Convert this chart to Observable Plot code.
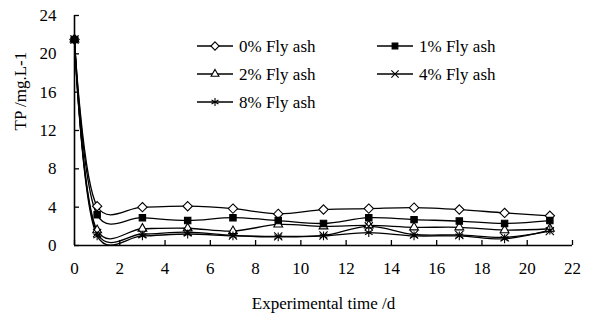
<!DOCTYPE html>
<html><head><meta charset="utf-8">
<script src="https://cdn.jsdelivr.net/npm/d3@7"></script>
<script src="https://cdn.jsdelivr.net/npm/@observablehq/plot@0.6"></script>
<style>
body{margin:0;background:#fff;}
#wrap{position:relative;width:591px;height:323px;}
#legend{position:absolute;left:0;top:0;}
</style>
</head><body><div id="wrap"></div>
<script>
const days = [0,1,3,5,7,9,11,13,15,17,19,21];
const fa0 = [21.5,4.1,4.0,4.1,3.85,3.3,3.75,3.85,3.95,3.75,3.4,3.1];
const fa1 = [21.5,3.2,2.9,2.6,2.9,2.6,2.3,2.9,2.7,2.55,2.3,2.6];
const fa2 = [21.5,1.6,1.75,1.8,1.5,2.2,2.0,2.1,1.9,1.9,1.6,1.75];
const fa4 = [21.5,1.3,1.2,1.4,1.05,0.95,1.05,2.0,1.15,1.1,0.85,1.5];
const fa8 = [21.5,1.0,1.0,1.2,1.0,0.9,1.0,1.35,1.0,1.0,0.7,1.6];
const seriesNames = ["0% Fly ash","1% Fly ash","2% Fly ash","4% Fly ash","8% Fly ash"];
const xTicks = [0,2,4,6,8,10,12,14,16,18,20,22];
const yTicks = [0,4,8,12,16,20,24];

const symbols = ["diamond2","square","triangle2","times","asterisk"];
const fills = ["white","black","white","none","none"];
const radii = [4.2,3.6,4.2,3.8,4.2];
const allSeries = [fa0,fa1,fa2,fa4,fa8];
const dotOrder = [0,2,3,4,1];

const W=591,H=323,ML=74,MR=19,MT=15,MB=78;
const font = "Liberation Serif, DejaVu Serif, serif";
const FS = 17;

const marks = [];
allSeries.forEach((vals,i)=>{
  const data = days.map((d,j)=>({day:d,tp:vals[j]}));
  marks.push(Plot.line(data,{x:"day",y:"tp",curve:d3.curveCatmullRom.alpha(0.2),stroke:"black",strokeWidth:1.3}));
});
dotOrder.forEach(i=>{
  const vals = allSeries[i];
  const data = days.map((d,j)=>({day:d,tp:vals[j]}));
  marks.push(Plot.dot(data,{x:"day",y:"tp",symbol:()=>symbols[i],r:radii[i],fill:fills[i],stroke:"black",strokeWidth:1.1}));
});

const chart = Plot.plot({
  width:W,height:H,marginLeft:ML,marginRight:MR,marginTop:MT,marginBottom:MB,
  style:{fontFamily:font,fontSize:FS+"px",color:"black",background:"white"},
  x:{domain:[0,22]},
  y:{domain:[0,24]},
  symbol:{type:"identity"},
  marks:[
    Plot.axisX({ticks:xTicks,tickSize:0,tickPadding:16,label:null,fontSize:FS}),
    Plot.axisY({ticks:yTicks,tickSize:0,tickPadding:18,label:null,fontSize:FS}),
    Plot.tickX(xTicks,{x:d=>d,insetTop:(H-MT-MB)-5,stroke:"black",strokeWidth:1.3}),
    Plot.tickY(yTicks,{y:d=>d,insetRight:(W-ML-MR)-5,stroke:"black",strokeWidth:1.3}),
    ...marks,
    Plot.ruleY([0],{stroke:"black",strokeWidth:1.6}),
    Plot.ruleX([0],{stroke:"black",strokeWidth:1.6}),
    Plot.text(["Experimental time /d"],{frameAnchor:"bottom",dy:63,text:d=>d,fontSize:FS,fill:"black"}),
    Plot.text(["TP /mg.L-1"],{frameAnchor:"left",dx:-54,rotate:-90,text:d=>d,fontSize:FS,fill:"black"})
  ]
});
chart.querySelectorAll("text").forEach(t=>t.setAttribute("font-family",font));
const wrap = document.getElementById("wrap");
wrap.appendChild(chart);

// legend overlay
const leg = d3.select(wrap).append("svg").attr("id","legend").attr("width",W).attr("height",H);
const pos = [[197,46],[377,46],[197,74],[377,74],[197,102]];
const d3sym = [d3.symbolDiamond2,d3.symbolSquare,d3.symbolTriangle2,d3.symbolTimes,d3.symbolAsterisk];
seriesNames.forEach((name,i)=>{
  const [x,y]=pos[i];
  const g = leg.append("g");
  g.append("line").attr("x1",x).attr("x2",x+36).attr("y1",y).attr("y2",y).attr("stroke","black").attr("stroke-width",1.3);
  g.append("path").attr("d",d3.symbol(d3sym[i],Math.PI*radii[i]*radii[i]*0.8)()).attr("transform",`translate(${x+18},${y})`)
    .attr("fill",fills[i]).attr("stroke","black").attr("stroke-width",1.1);
  g.append("text").attr("x",x+42).attr("y",y).attr("dy","0.35em").attr("font-family",font).attr("font-size",FS).text(name);
});
</script></body></html>
